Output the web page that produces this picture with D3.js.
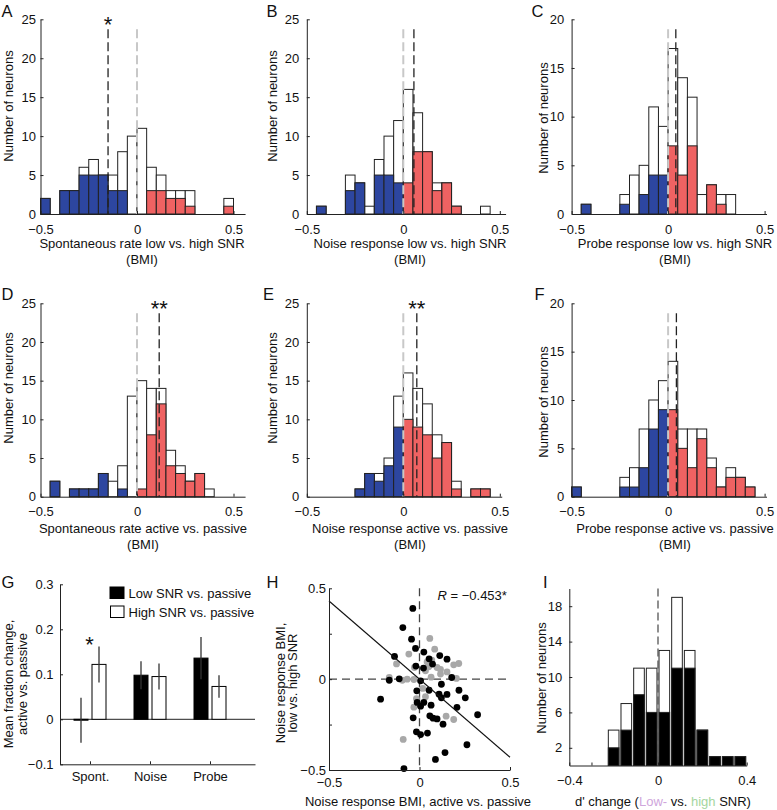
<!DOCTYPE html>
<html><head><meta charset="utf-8">
<script src="https://cdn.jsdelivr.net/npm/d3@7"></script>
<style>
body{margin:0;background:#fff;}
svg text{font-family:"Liberation Sans",Arial,Helvetica,sans-serif;fill:#111;}
</style></head><body>
<svg id="fig" width="777" height="810"></svg>
<script>
// ---------------- DATA ----------------
const binStart = [-0.50,-0.45,-0.40,-0.35,-0.30,-0.25,-0.20,-0.15,-0.10,-0.05,0.00,0.05,0.10,0.15,0.20,0.25,0.30,0.35,0.40,0.45];
const binWidth = 0.05;
const histXTicks = [-0.5, 0, 0.5];
const yTicks25 = [0,5,10,15,20,25];
const yTicks20 = [0,5,10,15,20];

// A: spontaneous rate low vs high SNR
const spontSNR_total = [2,0,3,3,6,7,5,5,8,10,11,6,5,3,3,3,0,0,0,2];
const spontSNR_sig   = [2,0,3,3,5,5,5,3,3,0,0,3,3,2,2,1,0,0,0,1];
// B: noise response low vs high SNR
const noiseSNR_total = [0,1,0,0,5,4,1,7,10,12,16,13,8,4,4,1,0,0,1,0];
const noiseSNR_sig   = [0,1,0,0,3,4,0,5,5,4,4,8,8,3,4,1,0,0,0,0];
// C: probe response low vs high SNR
const probeSNR_total = [0,1,0,0,0,2,4,5,11,9,17,14,12,2,3,2,2,0,0,0];
const probeSNR_sig   = [0,1,0,0,0,1,0,2,4,4,7,4,7,0,3,1,0,0,0,0];
// D: spontaneous rate active vs passive
const spontAct_total = [0,2,0,1,1,1,3,2,4,13,15,14,14,6,4,2,3,1,0,0];
const spontAct_sig   = [0,2,0,1,1,1,3,0,1,0,1,8,12,4,3,2,3,0,0,0];
// E: noise response active vs passive
const noiseAct_total = [0,0,0,0,0,1,3,3,5,13,16,14,12,8,7,2,0,1,1,0];
const noiseAct_sig   = [0,0,0,0,0,1,3,2,4,9,10,9,8,5,7,1,0,1,1,0];
// F: probe response active vs passive
const probeAct_total = [1,0,0,0,0,2,3,7,10,12,14,7,7,7,4,1,3,2,1,0];
const probeAct_sig   = [1,0,0,0,0,1,1,3,7,9,9,5,3,6,3,1,2,2,1,0];
// means (black dashed lines)
const histMeans = [-0.15, 0.055, 0.04, 0.115, 0.07, 0.043];
const histStars = ["*", "", "", "**", "**", ""];

// G: mean fraction change
const gCategories = ["Spont.","Noise","Probe"];
const gLowMean  = [-0.002, 0.098, 0.136];
const gLowSE    = [0.050, 0.031, 0.047];
const gHighMean = [0.122, 0.095, 0.073];
const gHighSE   = [0.040, 0.029, 0.025];
const gYTicks   = [-0.1, 0, 0.1, 0.2, 0.3];
const gLegend   = ["Low SNR vs. passive", "High SNR vs. passive"];

// H: scatter (x: active vs passive, y: low vs high SNR)
const hBlack = [
 [-0.037,0.389],[-0.092,0.284],[-0.044,0.220],[-0.022,0.169],[-0.138,0.125],[0.024,0.149],
 [0.112,0.130],[0.152,0.110],[0.053,0.112],[0.072,0.083],[-0.020,0.072],[0.022,0.061],
 [-0.167,-0.006],[-0.112,0.002],[0.006,-0.009],[0.178,0.009],[0.121,-0.028],[0.053,-0.061],
 [-0.015,-0.064],[0.108,-0.083],[0.152,-0.084],[0.218,-0.061],[0.253,-0.103],[0.121,-0.103],
 [-0.215,-0.110],[0.024,-0.128],[-0.013,-0.128],[0.064,-0.143],[0.006,-0.149],[0.207,-0.155],
 [0.321,-0.196],[-0.035,-0.213],[0.057,-0.202],[0.075,-0.215],[0.097,-0.219],[0.130,-0.248],
 [-0.017,-0.290],[0.006,-0.305],[0.044,-0.297],[0.262,-0.361],[0.141,-0.404],[0.088,-0.442],
 [-0.086,-0.492]
];
const hGray = [
 [0.057,0.224],[0.084,0.165],[-0.059,0.138],[0.042,0.095],[0.068,0.105],[0.051,0.068],
 [0.097,0.064],[0.116,0.053],[0.189,0.079],[0.217,0.086],[-0.127,0.084],[-0.028,0.064],
 [0.033,0.046],[0.152,0.040],[-0.167,0.009],[-0.095,-0.006],[-0.068,0.000],[-0.031,-0.002],
 [0.204,0.004],[0.116,0.028],[0.064,0.011],[0.018,-0.051],[0.033,-0.097],[-0.017,-0.108],
 [-0.031,-0.154],[0.147,-0.204],[0.189,-0.222],[-0.090,-0.332]
];
const hFitSlope = -0.86, hFitIntercept = 0.0;
const hTicks = [-0.5, -0.25, 0, 0.25, 0.5];
const hLabeled = [-0.5, 0, 0.5];
const hRText = "−0.453*";

// I: d' change histogram
const iCenters = [-0.2000,-0.1429,-0.0857,-0.0286,0.0286,0.0857,0.1429,0.2000,0.2571,0.3143,0.3714];
const iTotal   = [4,7,11,11,13,19,13,4,1,1,1];
const iLow     = [2,4,8,6,6,11,11,4,1,1,1];
const iYTicks  = [2,6,10,14,18];
const iXTicks  = [-0.4,-0.3,0,0.4];
const iXLabeled = [-0.4,0,0.4];

// ---------------- DRAWING ----------------
const svg = d3.select("#fig");
const BLUE = "#2d46a0", RED = "#ef6262", EDGE = "#222";
const FS = 13;
const fmt = d3.format("");

function styleAxis(g){
  g.attr("font-size", FS).attr("font-family", null);
  g.style("color", "#222");
  g.selectAll("path, line").attr("stroke-width", 1);
}
function rotText(x, y, lines, gap){
  const t = svg.append("g").attr("transform", `translate(${x},${y}) rotate(-90)`);
  lines.forEach((s,i)=>{
    t.append("text").attr("text-anchor","middle").attr("x",0)
      .attr("y", (i-(lines.length-1)/2)*gap).attr("dy","0.35em")
      .style("font-size", FS+"px").text(s);
  });
}
function letter(x, y, s){
  svg.append("text").attr("x",x).attr("y",y).style("font-size","16.5px").text(s);
}

const PX = 193;
const histPanels = [
 {L:"A", lx:1.5, ly:16.7, total:spontSNR_total, sig:spontSNR_sig, left:40.5, xmax:0.56, top:19.3, bottom:214, ymax:25, yt:yTicks25, pad:4.5,
  t1:"Spontaneous rate low vs. high SNR", tx:142, ty1:248, ty2:264, ytx:8.5, yty:106, xpad:11},
 {L:"B", lx:266.5, ly:16.7, total:noiseSNR_total, sig:noiseSNR_sig, left:306.8, xmax:0.53, top:19.3, bottom:214, ymax:25, yt:yTicks25, pad:7.5,
  t1:"Noise response low vs. high SNR", tx:410, ty1:248, ty2:264, ytx:272, yty:106, xpad:11},
 {L:"C", lx:531.5, ly:16.7, total:probeSNR_total, sig:probeSNR_sig, left:571.6, xmax:0.51, top:19.3, bottom:214, ymax:20, yt:yTicks20, pad:7.3,
  t1:"Probe response low vs. high SNR", tx:675, ty1:248, ty2:264, ytx:543, yty:118, xpad:11},
 {L:"D", lx:1.5, ly:300, total:spontAct_total, sig:spontAct_sig, left:40.5, xmax:0.56, top:303.3, bottom:496.7, ymax:25, yt:yTicks25, pad:4.5,
  t1:"Spontaneous rate active vs. passive", tx:143, ty1:532.5, ty2:549, ytx:8.5, yty:388, xpad:10},
 {L:"E", lx:263, ly:300, total:noiseAct_total, sig:noiseAct_sig, left:306.8, xmax:0.51, top:303.3, bottom:496.7, ymax:25, yt:yTicks25, pad:7.5,
  t1:"Noise response active vs. passive", tx:410, ty1:532.5, ty2:549, ytx:272, yty:388, xpad:10},
 {L:"F", lx:534.5, ly:300, total:probeAct_total, sig:probeAct_sig, left:571.6, xmax:0.51, top:303.3, bottom:496.7, ymax:20, yt:yTicks20, pad:7.3,
  t1:"Probe response active vs. passive", tx:675, ty1:532.5, ty2:549, ytx:543, yty:402, xpad:10}
];

histPanels.forEach((p, k) => {
  const x = d3.scaleLinear().domain([-0.5, p.xmax]).range([p.left, p.left + PX*(p.xmax+0.5)]);
  const y = d3.scaleLinear().domain([0, p.ymax]).range([p.bottom, p.top]);
  const g = svg.append("g");
  const rows = binStart.map((b,i)=>({b, t:p.total[i], s:p.sig[i]}));
  g.selectAll("rect.tot").data(rows.filter(d=>d.t>0)).join("rect").attr("class","tot")
    .attr("x", d=>x(d.b)).attr("width", d=>x(d.b+binWidth)-x(d.b))
    .attr("y", d=>y(d.t)).attr("height", d=>y(0)-y(d.t))
    .attr("fill","#fff").attr("stroke",EDGE).attr("stroke-width",1);
  g.selectAll("rect.sig").data(rows.filter(d=>d.s>0)).join("rect").attr("class","sig")
    .attr("x", d=>x(d.b)).attr("width", d=>x(d.b+binWidth)-x(d.b))
    .attr("y", d=>y(d.s)).attr("height", d=>y(0)-y(d.s))
    .attr("fill", d=> d.b < 0 ? BLUE : RED).attr("stroke",EDGE).attr("stroke-width",1);
  // zero (gray) and mean (black) dashed lines
  g.append("line").attr("x1",x(0)).attr("x2",x(0)).attr("y1",p.top+10).attr("y2",p.bottom)
    .attr("stroke","#c8c8c8").attr("stroke-width",2).attr("stroke-dasharray","9,4");
  const m = histMeans[k];
  g.append("line").attr("x1",x(m)).attr("x2",x(m)).attr("y1",p.top+10).attr("y2",p.bottom)
    .attr("stroke","#222").attr("stroke-width",1.3).attr("stroke-dasharray","9,4");
  if (histStars[k]) {
    g.append("text").attr("x",x(m)).attr("y",p.top+13).attr("text-anchor","middle")
      .style("font-size","22px").text(histStars[k]);
  }
  // axes
  const ya = g.append("g").attr("transform",`translate(${p.left},0)`)
    .call(d3.axisLeft(y).tickValues(p.yt).tickSize(-3).tickSizeOuter(0).tickPadding(p.pad).tickFormat(d3.format("d")));
  styleAxis(ya);
  const xa = g.append("g").attr("transform",`translate(0,${p.bottom})`)
    .call(d3.axisBottom(x).tickValues(histXTicks).tickSize(-3).tickSizeOuter(0).tickPadding(p.xpad).tickFormat(fmt));
  styleAxis(xa);
  // titles
  g.append("text").attr("x",p.tx).attr("y",p.ty1).attr("text-anchor","middle").style("font-size",FS+"px").text(p.t1);
  g.append("text").attr("x",p.tx).attr("y",p.ty2).attr("text-anchor","middle").style("font-size",FS+"px").text("(BMI)");
  rotText(p.ytx, p.yty, ["Number of neurons"], 14);
  letter(p.lx, p.ly, p.L);
});

// ---------- G ----------
{
  const x = d3.scaleLinear().domain([0.5, 3.75]).range([60, 255]);
  const y = d3.scaleLinear().domain([-0.1, 0.3]).range([764.3, 584.3]);
  const g = svg.append("g");
  const bw = 14, off = 9;
  g.append("line").attr("x1",x(0.5)).attr("x2",x(3.75)).attr("y1",y(0)).attr("y2",y(0)).attr("stroke","#222").attr("stroke-width",1);
  const rowsL = gCategories.map((c,i)=>({i, m:gLowMean[i], se:gLowSE[i]}));
  const rowsH = gCategories.map((c,i)=>({i, m:gHighMean[i], se:gHighSE[i]}));
  g.selectAll("rect.low").data(rowsL).join("rect").attr("class","low")
    .attr("x", d=>x(d.i+1)-off-bw/2).attr("width",bw)
    .attr("y", d=>Math.min(y(d.m),y(0))).attr("height", d=>Math.max(Math.abs(y(d.m)-y(0)),0.8))
    .attr("fill","#000").attr("stroke","#000").attr("stroke-width",1);
  g.selectAll("rect.high").data(rowsH).join("rect").attr("class","high")
    .attr("x", d=>x(d.i+1)+off-bw/2).attr("width",bw)
    .attr("y", d=>Math.min(y(d.m),y(0))).attr("height", d=>Math.abs(y(d.m)-y(0)))
    .attr("fill","#fff").attr("stroke","#000").attr("stroke-width",1);
  g.selectAll("line.el").data(rowsL).join("line").attr("class","el")
    .attr("x1", d=>x(d.i+1)-off).attr("x2", d=>x(d.i+1)-off)
    .attr("y1", d=>y(d.m-d.se)).attr("y2", d=>y(d.m+d.se)).attr("stroke","#333").attr("stroke-width",1.3);
  g.selectAll("line.eh").data(rowsH).join("line").attr("class","eh")
    .attr("x1", d=>x(d.i+1)+off).attr("x2", d=>x(d.i+1)+off)
    .attr("y1", d=>y(d.m-d.se)).attr("y2", d=>y(d.m+d.se)).attr("stroke","#333").attr("stroke-width",1.3);
  g.append("text").attr("x",x(1)-0.5).attr("y",651.5).attr("text-anchor","middle").style("font-size","22px").text("*");
  const ya = g.append("g").attr("transform",`translate(${x(0.5)},0)`)
    .call(d3.axisLeft(y).tickValues(gYTicks).tickSize(-3).tickSizeOuter(0).tickPadding(6.5).tickFormat(fmt));
  styleAxis(ya);
  const xa = g.append("g").attr("transform",`translate(0,${y(-0.1)})`)
    .call(d3.axisBottom(x).tickValues([1,2,3]).tickSize(-3).tickSizeOuter(0).tickPadding(7.5).tickFormat(v=>gCategories[v-1]));
  styleAxis(xa);
  // legend
  g.append("rect").attr("x",110).attr("y",587).attr("width",14).attr("height",11.5).attr("fill","#000").attr("stroke","#000");
  g.append("rect").attr("x",110.5).attr("y",606).attr("width",13.5).attr("height",11.5).attr("fill","#fff").attr("stroke","#000");
  g.append("text").attr("x",128.5).attr("y",598).style("font-size",FS+"px").text(gLegend[0]);
  g.append("text").attr("x",128.5).attr("y",617).style("font-size",FS+"px").text(gLegend[1]);
  rotText(15, 684, ["Mean fraction change,","active vs. passive"], 14);
  letter(1.5, 588.3, "G");
}

// ---------- H ----------
{
  const x = d3.scaleLinear().domain([-0.5, 0.5]).range([329, 510]);
  const y = d3.scaleLinear().domain([-0.5, 0.5]).range([770, 588.3]);
  const g = svg.append("g");
  g.append("line").attr("x1",x(0)).attr("x2",x(0)).attr("y1",y(0.5)).attr("y2",y(-0.5))
    .attr("stroke","#444").attr("stroke-width",1.3).attr("stroke-dasharray","8,5");
  g.append("line").attr("x1",x(-0.5)).attr("x2",x(0.5)).attr("y1",y(0)).attr("y2",y(0))
    .attr("stroke","#444").attr("stroke-width",1.3).attr("stroke-dasharray","8,5");
  g.selectAll("circle.gr").data(hGray).join("circle").attr("class","gr")
    .attr("cx",d=>x(d[0])).attr("cy",d=>y(d[1])).attr("r",3.4).attr("fill","#a8a8a8");
  g.selectAll("circle.bk").data(hBlack).join("circle").attr("class","bk")
    .attr("cx",d=>x(d[0])).attr("cy",d=>y(d[1])).attr("r",3.4).attr("fill","#000");
  g.append("line").attr("x1",x(-0.5)).attr("x2",x(0.5))
    .attr("y1",y(hFitIntercept+hFitSlope*-0.5)).attr("y2",y(hFitIntercept+hFitSlope*0.5))
    .attr("stroke","#111").attr("stroke-width",1.1);
  const ya = g.append("g").attr("transform",`translate(${x(-0.5)},0)`)
    .call(d3.axisLeft(y).tickValues(hTicks).tickSize(-3).tickSizeOuter(0).tickPadding(3)
      .tickFormat(v=> hLabeled.includes(v) ? fmt(v) : ""));
  styleAxis(ya);
  const xa = g.append("g").attr("transform",`translate(0,${y(-0.5)})`)
    .call(d3.axisBottom(x).tickValues(hLabeled).tickSize(-3).tickSizeOuter(0).tickPadding(8).tickFormat(fmt));
  styleAxis(xa);
  const rt = g.append("text").attr("x",437.5).attr("y",600).style("font-size",FS+"px");
  rt.append("tspan").style("font-style","italic").text("R");
  rt.append("tspan").text(" = " + hRText);
  g.append("text").attr("x",418).attr("y",805.5).attr("text-anchor","middle").style("font-size",FS+"px")
    .text("Noise response BMI, active vs. passive");
  rotText(286, 683, ["Noise response BMI,","low vs. high SNR"], 12);
  letter(266.5, 588, "H");
}

// ---------- I ----------
{
  const x = d3.scaleLinear().domain([-0.4, 0.4]).range([569.3, 746.7]);
  const y = d3.scaleLinear().domain([0, 20]).range([765.5, 588.5]);
  const g = svg.append("g");
  const bw = 0.048;
  const rows = iCenters.map((c,i)=>({c, t:iTotal[i], l:iLow[i]}));
  g.selectAll("rect.it").data(rows).join("rect").attr("class","it")
    .attr("x",d=>x(d.c-bw/2)).attr("width",d=>x(d.c+bw/2)-x(d.c-bw/2))
    .attr("y",d=>y(d.t)).attr("height",d=>y(0)-y(d.t))
    .attr("fill","#fff").attr("stroke",EDGE).attr("stroke-width",1);
  g.selectAll("rect.il").data(rows).join("rect").attr("class","il")
    .attr("x",d=>x(d.c-bw/2)).attr("width",d=>x(d.c+bw/2)-x(d.c-bw/2))
    .attr("y",d=>y(d.l)).attr("height",d=>y(0)-y(d.l))
    .attr("fill","#000").attr("stroke",EDGE).attr("stroke-width",1);
  g.append("line").attr("x1",x(0)).attr("x2",x(0)).attr("y1",y(20)).attr("y2",y(0))
    .attr("stroke","#555").attr("stroke-width",1.3).attr("stroke-dasharray","8,4");
  const ya = g.append("g").attr("transform",`translate(${x(-0.4)},0)`)
    .call(d3.axisLeft(y).tickValues(iYTicks).tickSize(-3).tickSizeOuter(0).tickPadding(7).tickFormat(d3.format("d")));
  styleAxis(ya);
  const xa = g.append("g").attr("transform",`translate(0,${y(0)})`)
    .call(d3.axisBottom(x).tickValues(iXTicks).tickSize(-3).tickSizeOuter(0).tickPadding(10)
      .tickFormat(v=> iXLabeled.includes(v) ? fmt(v) : ""));
  styleAxis(xa);
  const t = g.append("text").attr("x",663).attr("y",805.5).attr("text-anchor","middle").style("font-size",FS+"px");
  t.append("tspan").text("d' change (");
  t.append("tspan").style("fill","#cfa6dc").text("Low-");
  t.append("tspan").text(" vs. ");
  t.append("tspan").style("fill","#a4d6a0").text("high");
  t.append("tspan").text(" SNR)");
  rotText(541, 678, ["Number of neurons"], 14);
  letter(543, 588, "I");
}
</script>
</body></html>
